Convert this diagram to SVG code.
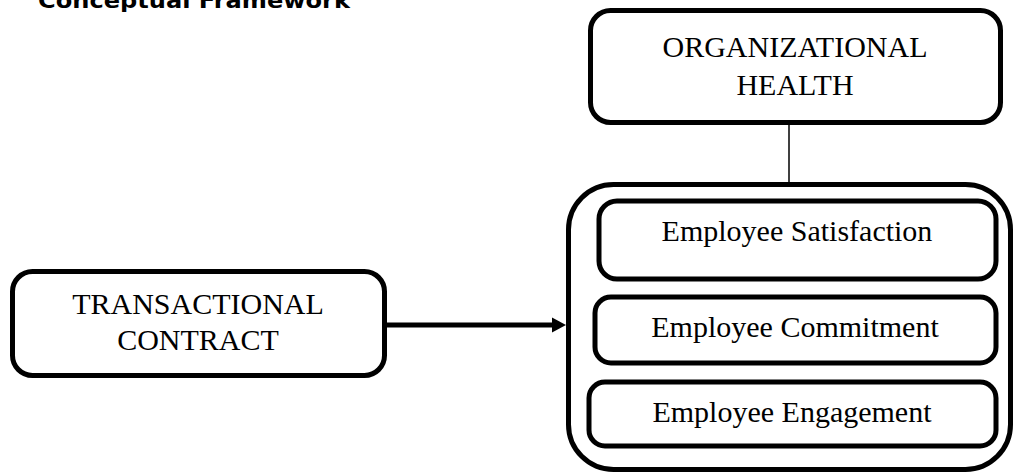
<svg xmlns="http://www.w3.org/2000/svg" width="1014" height="474" viewBox="0 0 1014 474">
<style>
.box{fill:#fff;stroke:#000;stroke-width:5}
.t{font-family:"Liberation Serif","Times New Roman",serif;font-size:30px;fill:#000;text-anchor:middle}
.title{font-family:"DejaVu Sans",Verdana,sans-serif;font-weight:bold;font-size:21px;fill:#000}
</style>
<rect width="1014" height="474" fill="#fff"/>
<text class="title" x="38" y="8" textLength="312" lengthAdjust="spacingAndGlyphs">Conceptual Framework</text>
<g id="connectors">
<line x1="789" y1="124" x2="789" y2="183" stroke="#000" stroke-width="1.5"/>
<line x1="386" y1="325" x2="554" y2="325" stroke="#000" stroke-width="5"/>
<polygon points="566,325 552,317.5 552,332.5" fill="#000"/>
</g>
<g id="org-health">
<rect class="box" x="590.5" y="10.5" width="410" height="112" rx="20"/>
<text class="t" x="795" y="57">ORGANIZATIONAL</text>
<text class="t" x="795" y="95">HEALTH</text>
</g>
<g id="transactional">
<rect class="box" x="12.5" y="271.5" width="372" height="104" rx="20"/>
<text class="t" x="198" y="314">TRANSACTIONAL</text>
<text class="t" x="198" y="350">CONTRACT</text>
</g>
<g id="outcomes">
<rect class="box" x="568.5" y="184.5" width="442" height="285" rx="45"/>
</g>
<g id="satisfaction">
<rect class="box" x="599" y="201" width="397" height="78" rx="18"/>
<text class="t" x="797" y="241">Employee Satisfaction</text>
</g>
<g id="commitment">
<rect class="box" x="595" y="297" width="401" height="66" rx="16"/>
<text class="t" x="795" y="337">Employee Commitment</text>
</g>
<g id="engagement">
<rect class="box" x="589" y="382" width="407" height="64" rx="16"/>
<text class="t" x="792" y="422">Employee Engagement</text>
</g>
</svg>
